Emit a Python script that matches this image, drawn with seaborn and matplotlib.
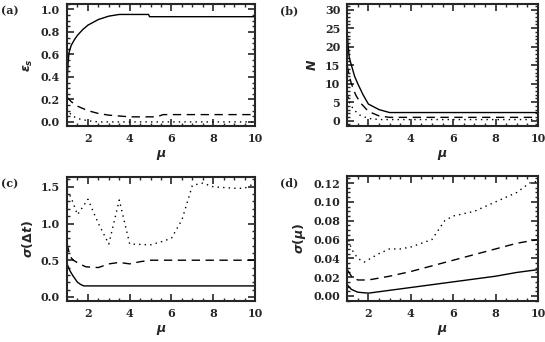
import numpy as np
import pandas as pd
import seaborn as sns
import matplotlib.pyplot as plt
from matplotlib.ticker import MultipleLocator

sns.set_style("ticks")
plt.rcParams['font.family'] = ['DejaVu Serif']
plt.rcParams['font.weight'] = 'bold'
plt.rcParams['font.size'] = 8

# panel (a)
a_solid_x = [1.0, 1.03, 1.06, 1.1, 1.2, 1.35, 1.5, 1.75, 2.0, 2.5, 3.0, 3.5, 4.9, 4.95, 10.0]
a_solid_y = [0.25, 0.45, 0.55, 0.62, 0.68, 0.73, 0.77, 0.82, 0.86, 0.91, 0.94, 0.955, 0.955, 0.935, 0.935]
a_dash_x = [1.0, 1.2, 1.5, 2.0, 2.5, 3.0, 4.0, 5.3, 5.6, 10.0]
a_dash_y = [0.22, 0.18, 0.14, 0.10, 0.075, 0.06, 0.045, 0.045, 0.065, 0.065]
a_dot_x = [1.0, 1.2, 1.5, 2.0, 2.5, 3.0, 10.0]
a_dot_y = [0.12, 0.06, 0.03, 0.01, 0.0, 0.0, 0.0]

# panel (b)
b_solid_x = [1.0, 1.05, 1.1, 1.2, 1.35, 1.5, 1.75, 2.0, 2.5, 3.0, 10.0]
b_solid_y = [24.0, 20.0, 17.0, 15.0, 12.0, 10.0, 7.0, 4.5, 3.0, 2.2, 2.2]
b_dash_x = [1.0, 1.1, 1.2, 1.4, 1.6, 2.0, 2.5, 3.0, 10.0]
b_dash_y = [15.0, 12.0, 10.0, 7.0, 5.0, 2.5, 1.3, 0.9, 0.9]
b_dot_x = [1.0, 1.1, 1.3, 1.6, 2.0, 2.5, 10.0]
b_dot_y = [8.0, 5.0, 3.0, 1.5, 0.6, 0.3, 0.3]

# panel (c)
c_solid_x = [1.0, 1.15, 1.3, 1.5, 1.65, 1.8, 10.0]
c_solid_y = [0.45, 0.35, 0.28, 0.2, 0.17, 0.15, 0.15]
c_dash_x = [1.0, 1.15, 1.3, 1.6, 1.9, 2.5, 3.0, 3.5, 4.0, 4.5, 5.0, 10.0]
c_dash_y = [0.72, 0.55, 0.5, 0.45, 0.41, 0.40, 0.45, 0.47, 0.45, 0.48, 0.5, 0.5]
c_dot_x = [1.0, 1.2, 1.5, 2.0, 2.5, 3.0, 3.5, 4.0, 5.0, 5.5, 6.0, 6.5, 7.0, 7.5, 8.0, 9.0, 9.5, 10.0]
c_dot_y = [1.45, 1.35, 1.12, 1.33, 1.0, 0.72, 1.32, 0.72, 0.71, 0.75, 0.8, 1.05, 1.52, 1.55, 1.5, 1.48, 1.48, 1.55]

# panel (d)
d_solid_x = [1.0, 1.2, 1.5, 2.0, 3.0, 4.0, 5.0, 6.0, 7.0, 8.0, 9.0, 10.0]
d_solid_y = [0.012, 0.007, 0.004, 0.003, 0.006, 0.009, 0.012, 0.015, 0.018, 0.021, 0.025, 0.028]
d_dash_x = [1.0, 1.2, 1.5, 2.0, 3.0, 4.0, 5.0, 6.0, 7.0, 8.0, 9.0, 10.0]
d_dash_y = [0.028, 0.021, 0.017, 0.017, 0.021, 0.026, 0.032, 0.038, 0.044, 0.05, 0.056, 0.06]
d_dot_x = [1.0, 1.2, 1.5, 1.8, 2.5, 3.0, 3.5, 4.0, 5.0, 5.6, 6.0, 7.0, 8.0, 9.0, 9.6, 10.0]
d_dot_y = [0.065, 0.05, 0.04, 0.036, 0.045, 0.05, 0.05, 0.052, 0.06, 0.08, 0.085, 0.09, 0.1, 0.11, 0.12, 0.122]

fig = plt.figure(figsize=(5.45, 3.42), dpi=100)
ax_a = fig.add_axes([0.123, 0.632, 0.345, 0.357])
ax_b = fig.add_axes([0.637, 0.632, 0.350, 0.357])
ax_c = fig.add_axes([0.123, 0.120, 0.345, 0.363])
ax_d = fig.add_axes([0.637, 0.120, 0.350, 0.365])

panels = [
    (ax_a, [(a_solid_x, a_solid_y), (a_dash_x, a_dash_y), (a_dot_x, a_dot_y)],
     (-0.035, 1.05), 0.2, 0.05, r'$\epsilon_s$', '(a)', '%.1f'),
    (ax_b, [(b_solid_x, b_solid_y), (b_dash_x, b_dash_y), (b_dot_x, b_dot_y)],
     (-1.4, 31.6), 5, 1, r'$N$', '(b)', '%d'),
    (ax_c, [(c_solid_x, c_solid_y), (c_dash_x, c_dash_y), (c_dot_x, c_dot_y)],
     (-0.055, 1.636), 0.5, 0.1, r'$\sigma(\Delta t)$', '(c)', '%.1f'),
    (ax_d, [(d_solid_x, d_solid_y), (d_dash_x, d_dash_y), (d_dot_x, d_dot_y)],
     (-0.0053, 0.1274), 0.02, 0.005, r'$\sigma(\mu)$', '(d)', '%.2f'),
]
styles = ['-', (0, (6, 4)), (0, (1, 3))]

for ax, series, ylim, ymaj, ymin, ylab, tag, fmt in panels:
    for (xs, ys), ls in zip(series, styles):
        sns.lineplot(x=xs, y=ys, ax=ax, color='black', linewidth=1.0,
                     linestyle=ls, estimator=None, sort=False)
    ax.set_xlim(1, 10)
    ax.set_ylim(*ylim)
    ax.xaxis.set_major_locator(MultipleLocator(2))
    ax.xaxis.set_minor_locator(MultipleLocator(0.5))
    ax.yaxis.set_major_locator(MultipleLocator(ymaj))
    ax.yaxis.set_minor_locator(MultipleLocator(ymin))
    ax.yaxis.set_major_formatter(plt.FormatStrFormatter(fmt))
    ax.tick_params(which='both', direction='in', top=True, right=True,
                   labelsize=8, pad=5)
    ax.tick_params(which='major', length=5, width=1.2)
    ax.tick_params(which='minor', length=2.5, width=1.0)
    for sp in ax.spines.values():
        sp.set_linewidth(1.5)
    ax.set_xlabel(r'$\mu$', fontsize=9, labelpad=3)
    ax.set_ylabel(ylab, fontsize=9, labelpad=4)
    ax.text(-0.35, 0.99, tag, transform=ax.transAxes, fontsize=8,
            va='top', ha='left')

fig.savefig('out.png', dpi=100)
